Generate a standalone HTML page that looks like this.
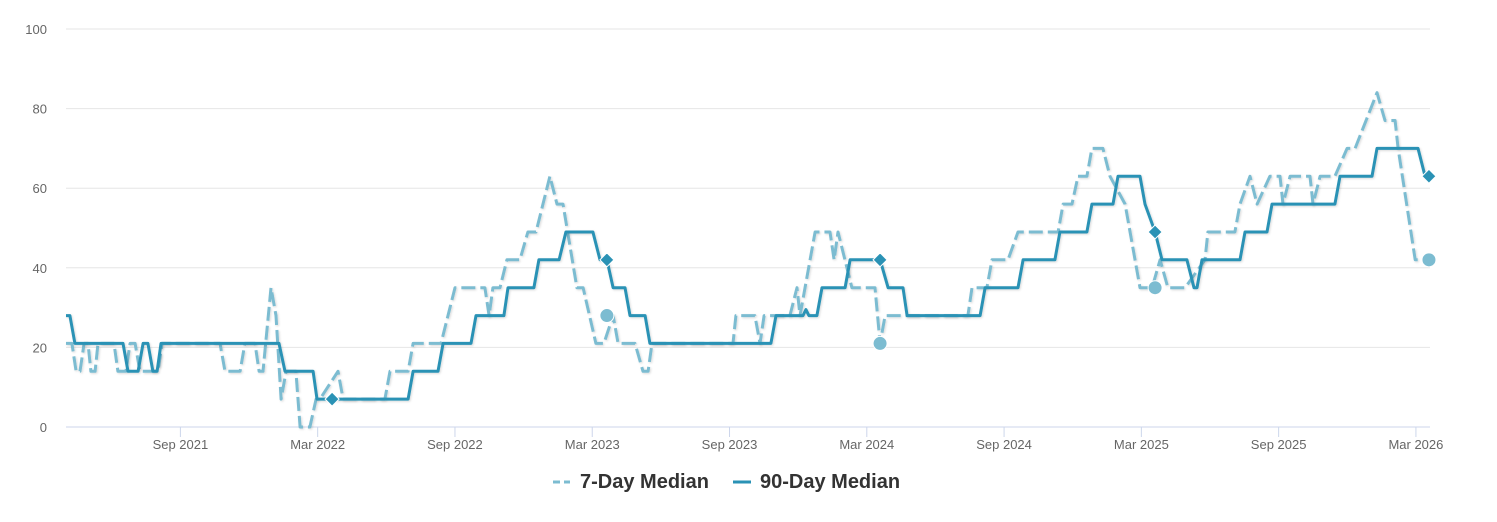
<!DOCTYPE html>
<html><head><meta charset="utf-8"><style>
body{margin:0;background:#fff;font-family:"Liberation Sans",sans-serif}
svg text{font-family:"Liberation Sans",sans-serif}
</style></head><body>
<svg id="chart" width="1497" height="517" viewBox="0 0 1497 517" xmlns="http://www.w3.org/2000/svg">
<defs><filter id="sh" x="-5%" y="-5%" width="110%" height="120%"><feDropShadow dx="1" dy="1" stdDeviation="1" flood-color="#000" flood-opacity="0.15"/></filter></defs>
<g id="grid"></g><g id="axes"></g><g id="series"></g><g id="legend"></g>
</svg>
<script>
const yTicks=[0,20,40,60,80,100];
const xTickMonths=[5,11,17,23,29,35,41,47,53,59];
const xTickLabels=["Sep 2021","Mar 2022","Sep 2022","Mar 2023","Sep 2023","Mar 2024","Sep 2024","Mar 2025","Sep 2025","Mar 2026"];
// months since Apr 2021
const med90Months=[0,0.17,0.39,2.49,2.71,3.15,3.37,3.58,3.80,3.98,4.15,9.31,9.57,10.80,10.97,14.95,15.17,16.26,16.48,17.70,17.92,19.14,19.32,20.45,20.67,21.55,21.85,23.03,23.34,23.64,23.91,24.43,24.65,25.31,25.52,30.81,31.03,32.21,32.34,32.47,32.82,33.04,34.05,34.27,35.58,35.93,36.58,36.76,39.95,40.17,41.61,41.83,43.22,43.44,44.62,44.84,45.76,45.98,46.94,47.16,47.60,47.90,48.99,49.30,49.43,49.65,51.31,51.53,52.49,52.71,55.46,55.68,57.08,57.30,59.09,59.40,59.57];
const med90Values=[28,28,21,21,14,14,21,21,14,14,21,21,14,14,7,7,14,14,21,21,28,28,35,35,42,42,49,49,42,42,35,35,28,28,21,21,28,28,29.5,28,28,35,35,42,42,35,35,28,28,35,35,42,42,49,49,56,56,63,63,56,49,42,42,35,35,42,42,49,49,56,56,63,63,70,70,63,63];
const med7Months=[0,0.26,0.44,0.61,0.79,0.96,1.09,1.27,1.40,2.10,2.27,2.62,2.80,3.02,3.23,4.02,4.20,6.73,6.95,7.61,7.82,8.26,8.44,8.61,8.96,9.18,9.40,9.62,10.05,10.23,10.66,10.93,11.10,11.89,12.11,13.94,14.16,14.95,15.17,16.39,17.00,18.31,18.49,18.66,18.97,19.27,19.84,20.19,20.54,21.15,21.46,21.72,22.33,22.60,23.16,23.51,23.91,24.13,24.87,25.22,25.44,25.61,29.15,29.28,30.11,30.33,30.51,31.64,31.95,32.08,32.74,33.39,33.57,33.74,34.35,35.36,35.58,35.80,39.42,39.60,40.25,40.47,41.17,41.61,43.36,43.58,43.97,44.23,44.62,44.84,45.32,45.63,46.29,46.94,47.47,47.82,48.16,48.91,49.78,49.91,51.09,51.31,51.75,52.06,52.62,53.06,53.19,53.50,54.37,54.50,54.81,55.46,55.99,56.34,57.30,57.65,58.09,58.22,58.97,59.57];
const med7Values=[21,21,14,14,21,21,14,14,21,21,14,14,21,21,14,14,21,21,14,14,21,21,14,14,35,28,7,14,14,0,0,7,7,14,7,7,14,14,21,21,35,35,28,35,35,42,42,49,49,63,56,56,35,35,21,21,28,21,21,14,14,21,21,28,28,21,28,28,35,28,49,49,42,49,35,35,21,28,28,35,35,42,42,49,49,56,56,63,63,70,70,63,56,35,35,42,35,35,42,49,49,56,63,56,63,63,56,63,63,56,63,63,70,70,84,77,77,70,42,42];
const markerMonths=[11.63,23.64,35.58,47.60,59.57];
const marker90=[7,42,42,49,63];
const marker7Months=[23.64,35.58,47.60,59.57];
const marker7=[28,21,35,42];

const NS="http://www.w3.org/2000/svg";
const X0=66,X1=1430,PX=22.88,Y0=427,PY=3.98;
const xS=m=>X0+m*PX, yS=v=>Y0-v*PY;
function mk(t,a,p){const e=document.createElementNS(NS,t);for(const k in a)e.setAttribute(k,a[k]);p.appendChild(e);return e;}
const grid=document.getElementById('grid'),axes=document.getElementById('axes'),ser=document.getElementById('series'),leg=document.getElementById('legend');
yTicks.forEach(v=>{
  const l=mk('line',{x1:X0,x2:X1,y1:yS(v),y2:yS(v),stroke:v===0?'#ccd6eb':'#e6e6e6','stroke-width':1},grid);
  
  
  const t=mk('text',{x:47,y:yS(v)+5,'text-anchor':'end','font-size':13,fill:'#666'},axes);t.textContent=v;
  
  
});
xTickMonths.forEach((m,i)=>{
  const tk=mk('line',{x1:xS(m),x2:xS(m),y1:Y0,y2:Y0+10,stroke:'#ccd6eb','stroke-width':1},axes);
  
  
  const t=mk('text',{x:xS(m),y:449,'text-anchor':'middle','font-size':13,fill:'#666'},axes);t.textContent=xTickLabels[i];
  
  
});
function pts(ms,vs){return ms.map((m,i)=>xS(m).toFixed(1)+','+yS(vs[i]).toFixed(1)).join(' ');}
const d7=mk('polyline',{points:pts(med7Months,med7Values),fill:'none',stroke:'#7cbcd1','stroke-width':3,'stroke-dasharray':'14,5','stroke-linejoin':'round',filter:'url(#sh)'},ser);


const d90=mk('polyline',{points:pts(med90Months,med90Values),fill:'none',stroke:'#2a92b5','stroke-width':3,'stroke-linejoin':'round',filter:'url(#sh)'},ser);


marker7Months.forEach((m,i)=>{
  const c=mk('circle',{cx:xS(m),cy:yS(marker7[i]),r:7,fill:'#7cbcd1',stroke:'#fff','stroke-width':1},ser);
  
  
});
markerMonths.forEach((m,i)=>{
  const x=xS(m),y=yS(marker90[i]);
  const p=mk('path',{d:`M${x},${y-7}L${x+7},${y}L${x},${y+7}L${x-7},${y}Z`,fill:'#2a92b5',stroke:'#fff','stroke-width':1},ser);
  
  
});
const l1=mk('line',{x1:553,x2:570,y1:482,y2:482,stroke:'#7cbcd1','stroke-width':3,'stroke-dasharray':'7,4'},leg);


const t1=mk('text',{x:580,y:488,'font-size':20,'font-weight':'bold',fill:'#333'},leg);t1.textContent='7-Day Median';


const l2=mk('line',{x1:733,x2:751,y1:482,y2:482,stroke:'#2a92b5','stroke-width':3},leg);


const t2=mk('text',{x:760,y:488,'font-size':20,'font-weight':'bold',fill:'#333'},leg);t2.textContent='90-Day Median';


</script>
</body></html>
